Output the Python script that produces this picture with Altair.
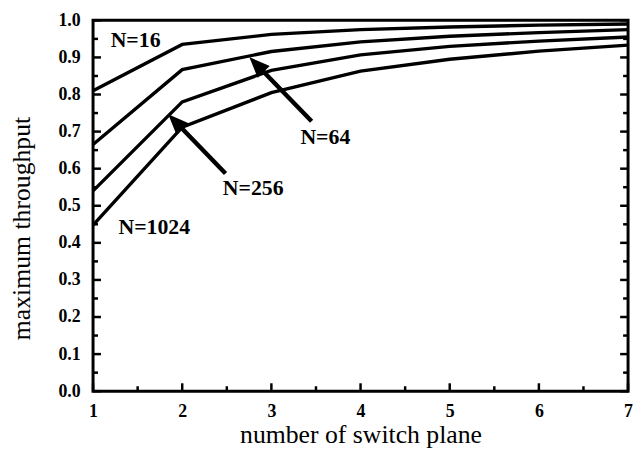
import math
import altair as alt
import pandas as pd

# ---- data ----
planes = [1, 2, 3, 4, 5, 6, 7]
thr_16 = [0.81, 0.935, 0.962, 0.975, 0.982, 0.987, 0.990]
thr_64 = [0.665, 0.867, 0.916, 0.942, 0.957, 0.967, 0.975]
thr_256 = [0.54, 0.78, 0.865, 0.907, 0.930, 0.944, 0.955]
thr_1024 = [0.448, 0.712, 0.805, 0.863, 0.895, 0.917, 0.933]
series_names = ["N=16", "N=64", "N=256", "N=1024"]

label_text = ["N=16", "N=64", "N=256", "N=1024"]
label_x = [1.477, 3.605, 2.796, 1.687]
label_y = [0.947, 0.685, 0.547, 0.443]

arrow_names = ["N=64", "N=256"]
arrow_tail_x = [3.451, 2.486]
arrow_tail_y = [0.728, 0.587]
arrow_tip_x = [2.752, 1.843]
arrow_tip_y = [0.901, 0.747]

x_major = [1, 2, 3, 4, 5, 6, 7]
x_minor = [1.5, 2.5, 3.5, 4.5, 5.5, 6.5]
y_major = [0.0, 0.1, 0.2, 0.3, 0.4, 0.5, 0.6, 0.7, 0.8, 0.9, 1.0]
y_minor = [0.05, 0.15, 0.25, 0.35, 0.45, 0.55, 0.65, 0.75, 0.85, 0.95]

# ---- layout / style ----
W, H = 541, 375
FONT = "Liberation Serif"

rows = []
for name, vals in zip(series_names, [thr_16, thr_64, thr_256, thr_1024]):
    for p, v in zip(planes, vals):
        rows.append({"plane": p, "thr": v, "N": name})
df = pd.DataFrame(rows)

x_scale = alt.Scale(domain=[1, 7], nice=False, zero=False)
y_scale = alt.Scale(domain=[0, 1], nice=False, zero=False)

x_axis = alt.Axis(values=x_major, format="d", ticks=False, tickSize=0, domain=False,
                  grid=False, labelPadding=12, labelFont=FONT, labelFontSize=18,
                  labelFontWeight="bold", labelColor="black", labelFlush=False,
                  labelOverlap=False, title="number of switch plane", titleFont=FONT,
                  titleFontSize=26, titleFontWeight="normal", titleColor="black",
                  titleY=52, titleBaseline="alphabetic")
y_axis = alt.Axis(values=y_major, format=".1f", ticks=False, tickSize=0, domain=False,
                  grid=False, labelPadding=13, labelFont=FONT, labelFontSize=18,
                  labelFontWeight="bold", labelColor="black", labelFlush=False,
                  labelOverlap=False, title="maximum throughput", titleFont=FONT,
                  titleFontSize=26, titleFontWeight="normal", titleColor="black",
                  titleX=-72, titleY=210, titleBaseline="middle", titleAlign="center")

X = alt.X("plane:Q", scale=x_scale, axis=x_axis)
Y = alt.Y("thr:Q", scale=y_scale, axis=y_axis)

lines = alt.Chart(df).mark_line(color="black", strokeWidth=3.4).encode(
    x=X, y=Y, detail="N:N")

# inward ticks
xmaj = pd.DataFrame({"plane": x_major})
xmin = pd.DataFrame({"plane": x_minor})
ymaj = pd.DataFrame({"thr": y_major})
ymin = pd.DataFrame({"thr": y_minor})

tk = dict(color="black", strokeWidth=2.5)
t1 = alt.Chart(xmaj).mark_rule(**tk).encode(x=X, y=alt.value(H), y2=alt.value(H - 8))
t2 = alt.Chart(xmin).mark_rule(**tk).encode(x=X, y=alt.value(H), y2=alt.value(H - 5))
t3 = alt.Chart(ymaj).mark_rule(**tk).encode(y=Y, x=alt.value(0), x2=alt.value(8))
t4 = alt.Chart(ymin).mark_rule(**tk).encode(y=Y, x=alt.value(0), x2=alt.value(5))
t5 = alt.Chart(ymaj).mark_rule(**tk).encode(y=Y, x=alt.value(W), x2=alt.value(W - 8))
t6 = alt.Chart(ymin).mark_rule(**tk).encode(y=Y, x=alt.value(W), x2=alt.value(W - 5))

# labels
lab = pd.DataFrame({"plane": label_x, "thr": label_y, "txt": label_text})
labels = alt.Chart(lab).mark_text(font=FONT, fontSize=22, fontWeight="bold",
                                  color="black", align="center", baseline="middle").encode(
    x=X, y=Y, text="txt:N")

# arrows
arr_rows = []
for n, tx, ty, hx, hy in zip(arrow_names, arrow_tail_x, arrow_tail_y, arrow_tip_x, arrow_tip_y):
    dx = (hx - tx) * W / 6.0
    dy = -(hy - ty) * H
    ang = math.degrees(math.atan2(dx, -dy)) % 360
    sx = hx + 0.14 * (tx - hx)
    sy = hy + 0.14 * (ty - hy)
    arr_rows.append({"name": n, "plane": tx, "thr": ty, "plane2": sx, "thr2": sy,
                     "tipx": hx, "tipy": hy, "ang": ang})
arr = pd.DataFrame(arr_rows)

shafts = alt.Chart(arr).mark_rule(color="black", strokeWidth=4.5).encode(
    x=X, y=Y, x2="plane2:Q", y2="thr2:Q")
heads = alt.Chart(arr).mark_point(shape="M0,0L-0.85,2.1L0.85,2.1Z", filled=True, size=400,
                                  color="black", opacity=1, strokeWidth=0).encode(
    x=alt.X("tipx:Q", scale=x_scale, axis=x_axis),
    y=alt.Y("tipy:Q", scale=y_scale, axis=y_axis),
    angle=alt.Angle("ang:Q", scale=None))

chart = alt.layer(lines, t1, t2, t3, t4, t5, t6, labels, shafts, heads).properties(
    width=W, height=H,
    autosize=alt.AutoSizeParams(type="none"),
    padding={"left": 86, "top": 10, "right": 5, "bottom": 58},
    background="white",
).configure_view(stroke="black", strokeWidth=3)

chart.save("out.html", embed_options={"renderer": "svg", "actions": False})
